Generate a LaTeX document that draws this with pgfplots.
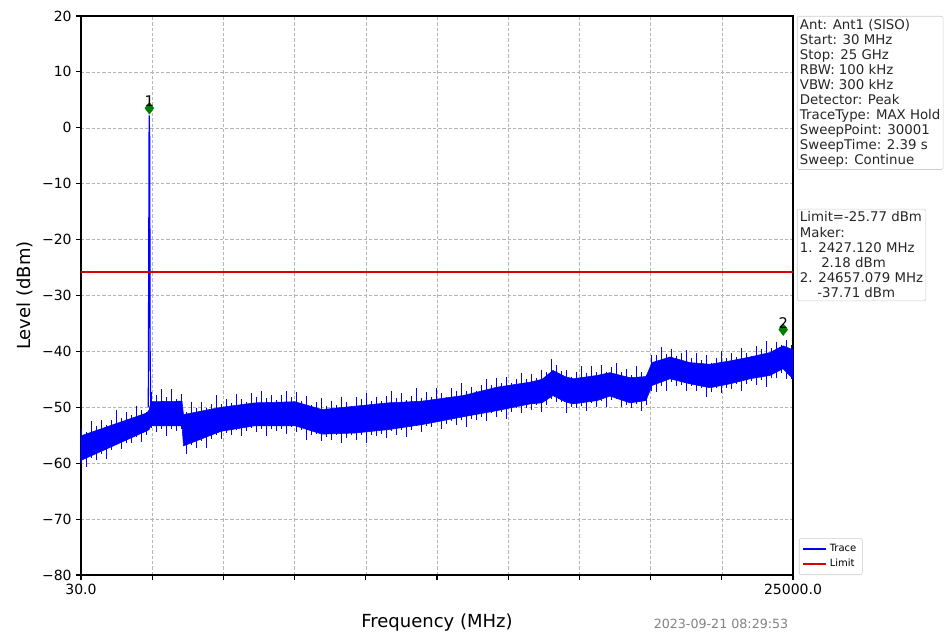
\documentclass[border=0pt]{standalone}
\usepackage{fontspec}
\setmainfont{DejaVu Sans}
\usepackage{pgfplots}
\pgfplotsset{compat=1.18}
\usepackage{pgfplotstable}

\definecolor{mgreen}{RGB}{0,128,0}
\definecolor{gridgray}{RGB}{180,180,180}
\definecolor{boxgray}{RGB}{205,205,205}
\definecolor{stampgray}{RGB}{130,130,130}

% core of the noise band: upper edge left to right, then lower edge right to left (MHz, dBm)
\pgfplotstableread{
f v
30 -55.1
2345 -51.0
2415 -50.5
2485 -49.0
3572 -48.9
3625 -51.3
4940 -50.0
6132 -49.2
7535 -49.0
8482 -50.4
9639 -49.8
10796 -49.2
11989 -48.9
13427 -47.9
14619 -46.4
15776 -45.5
16197 -45.0
16583 -43.4
17004 -44.5
17284 -44.9
18126 -44.3
18582 -43.8
19283 -44.7
19845 -44.5
20055 -42.0
20686 -41.0
21387 -42.0
22089 -42.3
22790 -41.7
23492 -41.0
24193 -40.2
24649 -39.0
25000 -39.7
25000 -44.9
24649 -43.1
24193 -44.3
23492 -44.9
22790 -45.8
22089 -46.5
21387 -45.8
20686 -44.9
20055 -46.1
19845 -48.8
19283 -49.2
18582 -48.0
18126 -48.8
17284 -49.4
17004 -49.0
16583 -47.9
16197 -49.2
15776 -49.4
14619 -50.6
13427 -51.7
11989 -53.1
10796 -54.0
9639 -54.6
8482 -54.8
7535 -53.3
6132 -53.3
4940 -54.3
3625 -56.9
3572 -53.3
2485 -53.3
2415 -54.0
2345 -54.2
30 -59.5
}\core

% max-hold spikes (MHz, highest, lowest)
\pgfplotstableread{
f hi lo
30 -53.9 -60.1
205 -54.4 -60.6
381 -52.4 -59.0
556 -53.4 -59.4
731 -52.2 -58.3
907 -53.2 -59.3
1082 -52.2 -57.7
1257 -50.5 -56.8
1433 -52.0 -57.5
1608 -50.9 -56.3
1784 -51.4 -56.4
1959 -49.7 -55.3
2134 -50.4 -56.2
2310 -50.8 -55.0
2485 -47.2 -53.7
2660 -47.8 -54.5
2836 -46.7 -53.8
3011 -48.2 -55.2
3186 -46.8 -53.9
3362 -48.5 -54.2
3537 -47.7 -53.9
3712 -50.9 -58.3
3888 -49.0 -56.7
4063 -50.1 -57.2
4238 -49.1 -56.1
4414 -50.2 -57.2
4589 -49.4 -55.7
4764 -47.8 -54.9
4940 -49.4 -55.6
5115 -48.5 -54.6
5291 -49.2 -55.0
5466 -47.7 -54.1
5641 -48.6 -55.2
5817 -49.1 -54.3
5992 -47.5 -53.7
6167 -48.1 -54.5
6343 -47.0 -53.8
6518 -48.4 -55.2
6693 -47.8 -53.9
6869 -48.7 -54.2
7044 -47.8 -53.9
7219 -47.0 -54.8
7395 -48.2 -53.6
7570 -47.3 -54.5
7745 -48.8 -54.1
7921 -48.0 -55.8
8096 -49.6 -54.9
8271 -49.1 -54.7
8447 -48.4 -56.1
8622 -49.7 -55.3
8798 -48.8 -55.8
8973 -49.6 -55.0
9148 -48.1 -56.3
9324 -49.0 -55.5
9499 -49.7 -55.0
9674 -48.1 -55.8
9850 -48.6 -55.0
10025 -47.4 -56.3
10200 -48.8 -54.9
10376 -48.1 -55.1
10551 -48.9 -54.7
10726 -48.0 -55.5
10902 -47.1 -54.2
11077 -48.3 -54.9
11252 -47.5 -54.0
11428 -48.7 -55.3
11603 -48.0 -54.1
11778 -46.5 -53.4
11954 -48.3 -54.4
12129 -47.3 -53.3
12305 -48.1 -53.6
12480 -46.6 -52.7
12655 -47.5 -53.9
12831 -48.1 -52.9
13006 -46.5 -52.4
13181 -47.0 -53.1
13357 -45.7 -52.2
13532 -47.1 -53.5
13707 -46.3 -52.1
13883 -47.0 -52.2
14058 -46.0 -51.7
14233 -45.0 -52.5
14409 -46.0 -51.1
14584 -44.7 -51.8
14759 -45.7 -50.9
14935 -44.6 -52.1
15110 -45.7 -50.8
15285 -44.9 -50.1
15461 -43.8 -51.1
15636 -45.0 -50.1
15812 -44.0 -50.4
15987 -44.8 -49.6
16162 -43.3 -50.8
16338 -43.7 -49.6
16513 -41.3 -48.5
16688 -42.4 -49.1
16864 -43.5 -49.1
17039 -43.3 -51.0
17214 -44.5 -50.0
17390 -43.6 -50.2
17565 -42.7 -49.8
17740 -43.8 -50.6
17916 -42.7 -49.3
18091 -43.7 -49.9
18266 -42.5 -48.9
18442 -43.6 -50.0
18617 -42.8 -48.7
18792 -42.1 -48.6
18968 -43.7 -50.0
19143 -43.1 -49.5
19319 -44.2 -50.2
19494 -42.7 -49.4
19669 -43.7 -50.6
19845 -44.3 -49.6
20020 -40.7 -47.0
20195 -40.7 -47.2
20371 -39.3 -46.1
20546 -40.5 -47.1
20721 -39.6 -45.5
20897 -40.9 -46.1
21072 -40.3 -46.0
21247 -39.8 -47.1
21423 -41.2 -46.1
21598 -40.3 -47.1
21773 -41.6 -46.6
21949 -40.7 -48.2
22124 -42.0 -47.2
22299 -41.1 -46.5
22475 -40.0 -47.4
22650 -41.2 -46.5
22826 -40.3 -46.8
23001 -41.0 -45.9
23176 -39.4 -47.0
23352 -40.3 -45.9
23527 -40.8 -45.3
23702 -39.1 -46.0
23878 -39.5 -45.1
24053 -38.2 -46.4
24228 -39.4 -44.8
24404 -38.4 -44.7
24579 -38.8 -43.9
24754 -37.9 -45.0
24930 -38.8 -44.9
}\spikes

\pgfplotstableread{
f lvl lab
2427 3.5 1
24657 -36.1 2
}\markers

\pgfplotstableread{
f lvl
30 -25.77
25000 -25.77
}\limit

\begin{document}
\begin{tikzpicture}
\begin{axis}[
  at={(0,0)}, anchor=south west,
  scale only axis, width=534pt, height=419.25pt,
  xmin=30, xmax=25000, ymin=-80, ymax=20,
  scaled x ticks=false,
  xtick={30,2527,5024,7521,10018,12515,15012,17509,20006,22503,25000},
  xticklabels={30.0,,,,,,,,,,25000.0},
  ytick={-80,-70,-60,-50,-40,-30,-20,-10,0,10,20},
  yticklabels={−80,−70,−60,−50,−40,−30,−20,−10,0,10,20},
  grid=major,
  major grid style={gridgray, dash pattern=on 2.5pt off 1.5pt, line width=0.4pt},
  axis line style={line width=1.1pt},
  tick align=outside, major tick length=3.5pt,
  tick style={black, line width=0.8pt},
  xtick pos=left, ytick pos=left,
  ticklabel style={font=\fontsize{10.5}{12}\selectfont},
  xlabel={Frequency (MHz)}, ylabel={Level (dBm)},
  label style={font=\fontsize{13.5}{16}\selectfont},
  xlabel style={at={(rel axis cs:0.5,-0.0857)}, anchor=center},
  ylabel style={at={(rel axis cs:-0.079,0.5)}, anchor=center},
  clip=false,
  legend style={at={(rel axis cs:1.0084,0)}, anchor=south west, draw=boxgray,
    rounded corners=1.5pt, font=\fontsize{7.5}{9}\selectfont, inner sep=2.5pt},
  legend cell align=left,
  legend image post style={line width=1.3pt},
]
\addplot[fill=blue, draw=blue, line width=0.4pt, forget plot] table[x=f,y=v]{\core} -- cycle;
\addplot[draw=none, mark=none, forget plot,
  error bars/.cd, y dir=minus, y explicit, error mark=none,
  error bar style={draw=blue, solid, line width=0.5pt}]
  table[x=f, y=hi, y error minus expr=\thisrow{hi}-\thisrow{lo}]{\spikes};
\addplot[draw=blue, color=blue, line width=0.9pt, mark=none] coordinates {(2390,-50) (2420,2.2) (2440,-2) (2455,-40) (2475,-50)};
\addlegendentry{Trace}
\addplot[red!85!black, line width=1.1pt, mark=none] table[x=f, y=lvl]{\limit};
\addlegendentry{Limit}
\addplot[only marks, mark=diamond*, mark size=4.4pt, mgreen, forget plot,
  nodes near coords, point meta=explicit symbolic,
  nodes near coords style={black, font=\fontsize{11}{12}\selectfont, anchor=south, inner sep=1pt, yshift=0pt}]
  table[x=f, y=lvl, meta=lab]{\markers};

\node[anchor=north west, draw=boxgray, rounded corners=1.5pt, inner sep=2pt, align=left,
  font=\fontsize{10}{11.25}\selectfont, text=black!85] at (rel axis cs:1.0056,1.0)
  {Ant: Ant1 (SISO)\\Start: 30 MHz\\Stop: 25 GHz\\RBW: 100 kHz\\VBW: 300 kHz\\Detector: Peak\\TraceType: MAX Hold\\SweepPoint: 30001\\SweepTime: 2.39 s\\Sweep: Continue};
\node[anchor=north west, draw=boxgray, rounded corners=1.5pt, inner sep=2pt, align=left,
  font=\fontsize{10}{11.4}\selectfont, text=black!85] at (rel axis cs:1.0056,0.655)
  {Limit=-25.77 dBm\\Maker:\\1. 2427.120 MHz\\\hspace*{1.6em}2.18 dBm\\2. 24657.079 MHz\\\hspace*{1.3em}-37.71 dBm};
\node[anchor=east, text=stampgray, font=\fontsize{9.5}{11}\selectfont] at (rel axis cs:1,-0.0875) {2023-09-21 08:29:53};
\end{axis}
\path (-60.75pt,-46.5pt) rectangle (651pt,431.25pt);
\end{tikzpicture}
\end{document}
